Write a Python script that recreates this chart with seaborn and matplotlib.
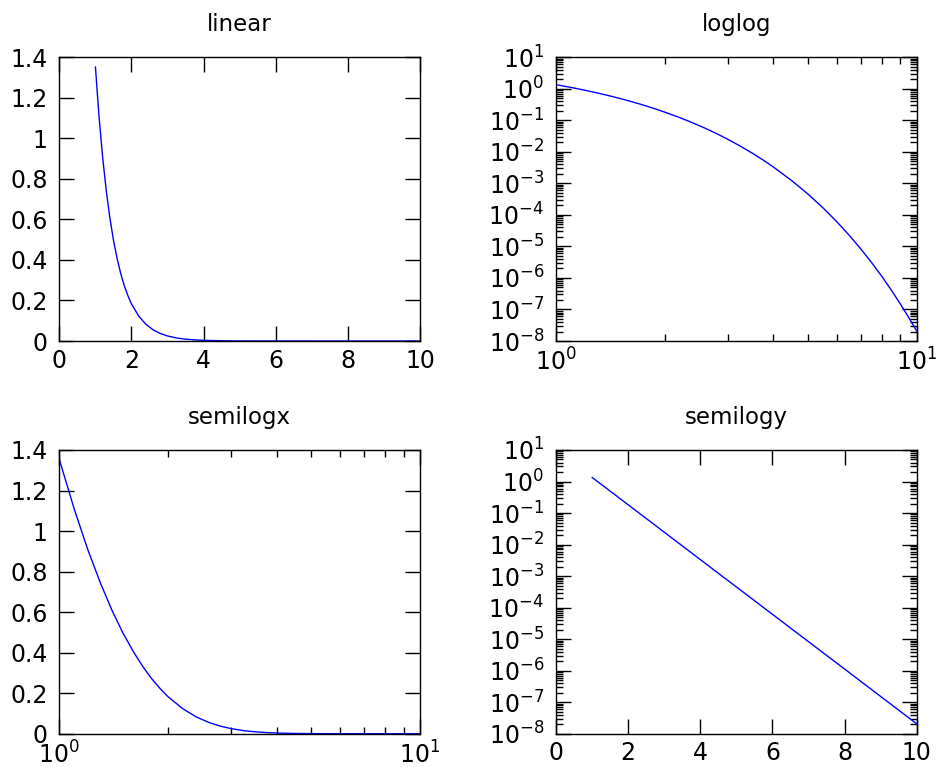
"""Four panels of the same decaying curve on linear / log axes (gnuplot-like style)."""

import matplotlib
matplotlib.use("Agg")
import matplotlib.pyplot as plt
import matplotlib.ticker as mticker
import numpy as np
import seaborn as sns

# values (y drops one decade roughly every 1.15 in x)
X_VALUES = [1.0, 1.1, 1.2, 1.3, 1.4, 1.5, 1.6, 1.7, 1.8, 1.9, 2.0,
            2.2, 2.4, 2.6, 2.8, 3.0, 3.25, 3.5, 3.75, 4.0,
            4.5, 5.0, 5.5, 6.0, 6.5, 7.0, 7.5, 8.0, 8.5, 9.0, 9.5, 10.0]
Y_VALUES = [1.353, 1.108, 0.907, 0.743, 0.608, 0.498, 0.408, 0.334, 0.273, 0.224, 0.183,
            0.123, 0.0823, 0.0552, 0.0370, 0.0248, 0.0150, 0.00912, 0.00553, 0.00335,
            0.00123, 4.54e-4, 1.67e-4, 6.14e-5, 2.26e-5, 8.32e-6, 3.06e-6, 1.13e-6,
            4.14e-7, 1.52e-7, 5.60e-8, 2.06e-8]

PANELS = ["linear", "loglog", "semilogx", "semilogy"]
LOG_X = {"linear": False, "loglog": True, "semilogx": True, "semilogy": False}
LOG_Y = {"linear": False, "loglog": True, "semilogx": False, "semilogy": True}

LIN_X_TICKS = [0, 2, 4, 6, 8, 10]
LIN_Y_TICKS = [0, 0.2, 0.4, 0.6, 0.8, 1.0, 1.2, 1.4]

# axes boxes in figure fractions (left, bottom, width, height)
POSITIONS = {
    "linear":   [0.0634, 0.5554, 0.3854, 0.3699],
    "loglog":   [0.5940, 0.5554, 0.3854, 0.3699],
    "semilogx": [0.0634, 0.0434, 0.3854, 0.3699],
    "semilogy": [0.5940, 0.0434, 0.3854, 0.3699],
}

sns.set_theme(style="white")
plt.rcParams["font.family"] = ["DejaVu Sans"]
plt.rcParams["mathtext.fontset"] = "dejavusans"


def log_label(v, pos):
    e = int(round(np.log10(v)))
    return f"$10^{{{e}}}$"


fig = plt.figure(figsize=(9.36, 7.67), dpi=100)

for name in PANELS:
    ax = fig.add_axes(POSITIONS[name])
    sns.lineplot(x=X_VALUES, y=Y_VALUES, ax=ax, color="#0000ff", linewidth=1.0)

    if LOG_X[name]:
        ax.set_xscale("log")
        ax.set_xlim(1, 10)
        ax.xaxis.set_major_locator(mticker.LogLocator(base=10, numticks=20))
        ax.xaxis.set_minor_locator(mticker.LogLocator(base=10, subs=np.arange(2, 10), numticks=20))
        ax.xaxis.set_major_formatter(mticker.FuncFormatter(log_label))
        ax.xaxis.set_minor_formatter(mticker.NullFormatter())
    else:
        ax.set_xlim(0, 10)
        ax.set_xticks(LIN_X_TICKS)
        ax.xaxis.set_major_formatter(mticker.FuncFormatter(lambda v, p: f"{v:g}"))

    if LOG_Y[name]:
        ax.set_yscale("log")
        ax.set_ylim(1e-8, 1e1)
        ax.yaxis.set_major_locator(mticker.LogLocator(base=10, numticks=20))
        ax.yaxis.set_minor_locator(mticker.LogLocator(base=10, subs=np.arange(2, 10), numticks=100))
        ax.yaxis.set_major_formatter(mticker.FuncFormatter(log_label))
        ax.yaxis.set_minor_formatter(mticker.NullFormatter())
    else:
        ax.set_ylim(0, 1.4)
        ax.set_yticks(LIN_Y_TICKS)
        ax.yaxis.set_major_formatter(mticker.FuncFormatter(lambda v, p: f"{v:g}"))

    ax.tick_params(which="both", direction="in", top=True, right=True,
                   bottom=True, left=True, colors="black", labelsize=17, width=1.0)
    ax.tick_params(which="major", length=11)
    ax.tick_params(which="minor", length=5)
    ax.tick_params(axis="x", which="major", pad=5.5)
    ax.tick_params(axis="y", which="major", pad=8.5)
    for sp in ax.spines.values():
        sp.set_color("black")
        sp.set_linewidth(1.0)
    ax.grid(False)
    ax.set_xlabel("")
    ax.set_ylabel("")
    ax.set_title(name, fontsize=16.5, pad=19, color="black")

fig.savefig("out.png", dpi=100)
